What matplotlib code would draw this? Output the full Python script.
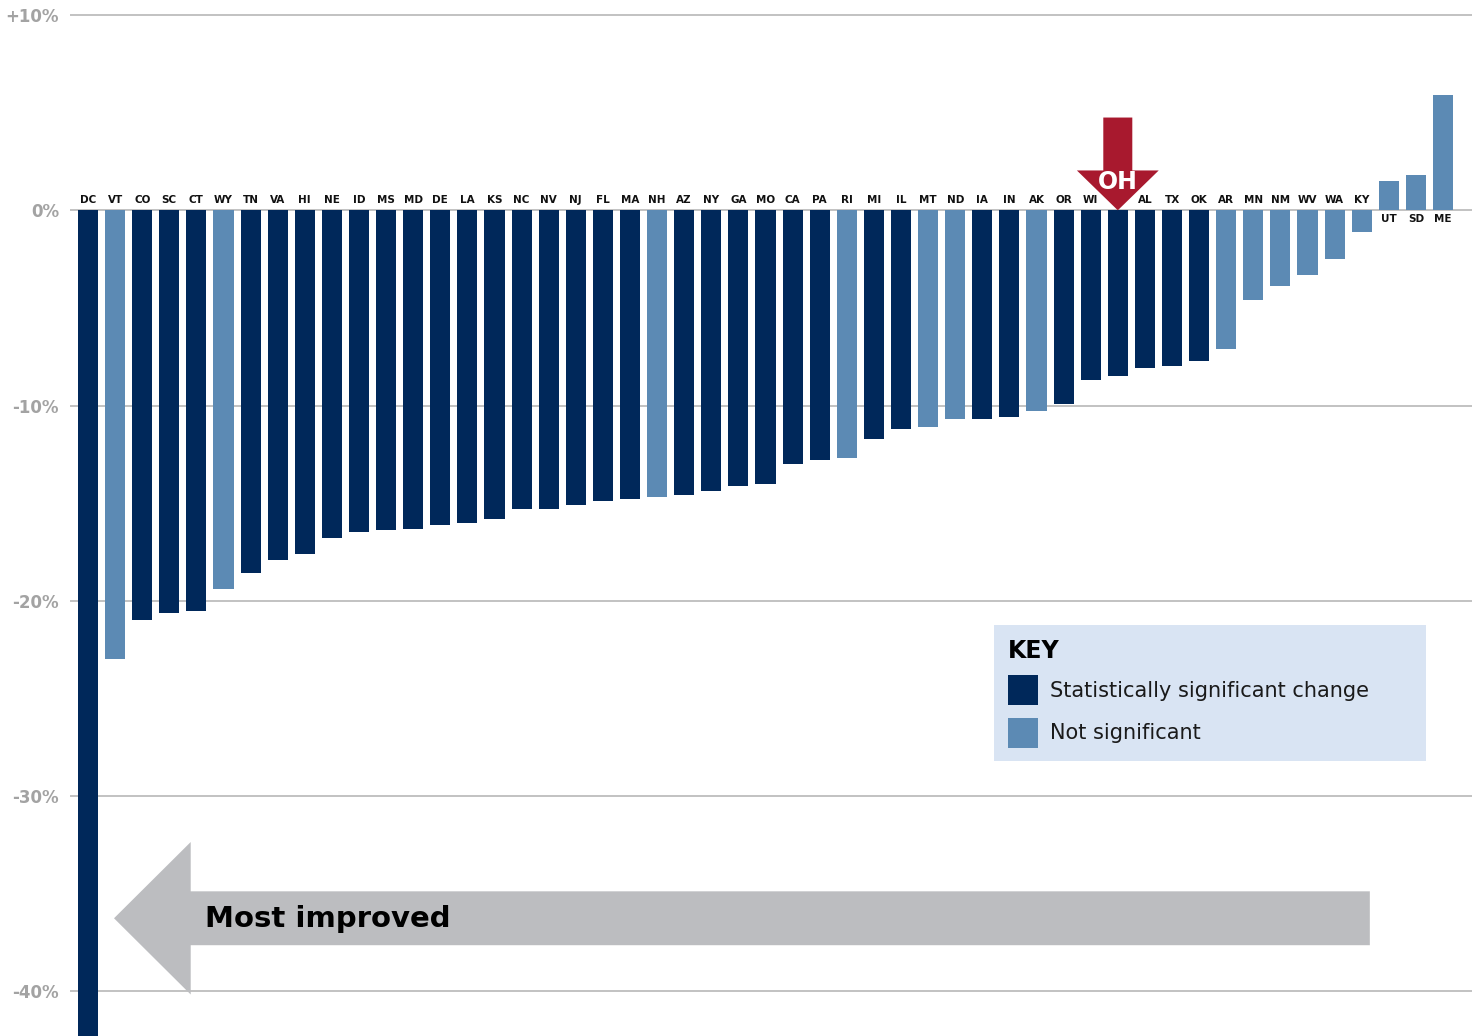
import numpy as np
import matplotlib
matplotlib.use('Agg')
import matplotlib.pyplot as plt
from matplotlib.patches import Patch

# data: change in rate by state (%), sorted
states = ['DC', 'VT', 'CO', 'SC', 'CT', 'WY', 'TN', 'VA', 'HI', 'NE', 'ID', 'MS', 'MD',
          'DE', 'LA', 'KS', 'NC', 'NV', 'NJ', 'FL', 'MA', 'NH', 'AZ', 'NY', 'GA', 'MO',
          'CA', 'PA', 'RI', 'MI', 'IL', 'MT', 'ND', 'IA', 'IN', 'AK', 'OR', 'WI', 'OH',
          'AL', 'TX', 'OK', 'AR', 'MN', 'NM', 'WV', 'WA', 'KY', 'UT', 'SD', 'ME']
change = [-45.0, -23.0, -21.0, -20.6, -20.5, -19.4, -18.6, -17.9, -17.6, -16.8, -16.5,
          -16.4, -16.3, -16.1, -16.0, -15.8, -15.3, -15.3, -15.1, -14.9, -14.8, -14.7,
          -14.6, -14.4, -14.1, -14.0, -13.0, -12.8, -12.7, -11.7, -11.2, -11.1, -10.7,
          -10.7, -10.6, -10.3, -9.9, -8.7, -8.5, -8.1, -8.0, -7.7, -7.1, -4.6, -3.9,
          -3.3, -2.5, -1.1, 1.5, 1.8, 5.9]
not_significant = ['VT', 'WY', 'NH', 'RI', 'MT', 'ND', 'AK', 'AR', 'MN', 'NM', 'WV',
                   'WA', 'KY', 'UT', 'SD', 'ME']
highlight = 'OH'
y_ticks = [10, 0, -10, -20, -30, -40]
y_tick_labels = ['+10%', '0%', '-10%', '-20%', '-30%', '-40%']

# colours
dark = '#00285a'
light = '#5c8ab4'
red = '#a8192e'
grey_arrow = '#bcbdc0'
grid_col = '#b8b8b8'
key_bg = '#d9e4f3'

plt.rcParams['font.family'] = ['DejaVu Sans']

fig = plt.figure(figsize=(14.8, 10.36), dpi=100)
ax = fig.add_axes([70 / 1480, 0, 1402 / 1480, 1])

x = np.arange(len(states))
colours = [light if s in not_significant else dark for s in states]
ax.bar(x, change, width=0.74, color=colours, zorder=2)

ax.set_xlim(-0.664, 51.07)
ax.set_ylim(-42.29, 10.77)
ax.set_yticks(y_ticks)
ax.set_yticklabels(y_tick_labels, fontsize=12, fontweight='bold', color='#a3a3a3')
ax.tick_params(axis='y', length=0, pad=8)
ax.set_xticks([])
ax.grid(axis='y', color=grid_col, lw=1.2, zorder=0)
ax.set_axisbelow(True)
for sp in ax.spines.values():
    sp.set_visible(False)

# state labels
for i, (s, v) in enumerate(zip(states, change)):
    if s == highlight:
        continue
    if v < 0:
        ax.annotate(s, (i, 0), xytext=(0, 4), textcoords='offset points',
                    ha='center', va='bottom', fontsize=7.5, fontweight='bold', color='#111111')
    else:
        ax.annotate(s, (i, 0), xytext=(0, -3), textcoords='offset points',
                    ha='center', va='top', fontsize=7.5, fontweight='bold', color='#111111')

# red marker arrow for OH
oh = states.index(highlight)
ax.arrow(oh, 4.75, 0, -4.75, width=1.07, head_width=3.02, head_length=2.04,
         length_includes_head=True, color=red, lw=0, zorder=4)
ax.text(oh, 1.45, highlight, ha='center', va='center', fontsize=17,
        fontweight='bold', color='white', zorder=5)

# big grey arrow
ax.arrow(47.3, -36.26, -46.34, 0, width=2.76, head_width=7.81, head_length=2.83,
         length_includes_head=True, color=grey_arrow, lw=0, zorder=3)
ax.text(4.32, -36.3, 'Most improved', ha='left', va='center', fontsize=21,
        fontweight='bold', color='black', zorder=4)

# key
handles = [Patch(facecolor=dark, edgecolor='none'), Patch(facecolor=light, edgecolor='none')]
leg = ax.legend(handles, ['Statistically significant change', 'Not significant'],
                title='KEY', loc='upper left',
                bbox_to_anchor=(994 / 1480, 1 - 625 / 1036 - 0.01, 432 / 1480, 0.01),
                bbox_transform=fig.transFigure, mode='expand', borderaxespad=0,
                fontsize=15, title_fontproperties={'weight': 'bold', 'size': 17},
                alignment='left', handlelength=1.44, handleheight=1.84,
                handletextpad=0.58, labelspacing=0.6, borderpad=0.65,
                fancybox=False, framealpha=1)
leg.get_frame().set_facecolor(key_bg)
leg.get_frame().set_edgecolor('none')
for t in leg.get_texts():
    t.set_color('#1a1a1a')

fig.savefig('out.png', dpi=100)
